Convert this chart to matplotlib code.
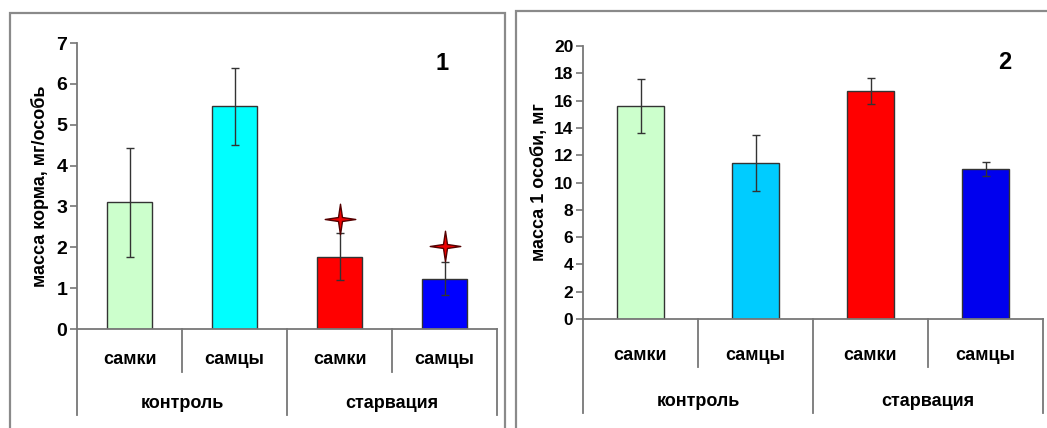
import matplotlib
matplotlib.use("Agg")
import matplotlib.pyplot as plt
from matplotlib.patches import Rectangle
from matplotlib.path import Path
import matplotlib.transforms as mtransforms

# ---- data ----
sub_labels = ["самки", "самцы", "самки", "самцы"]
group_labels = ["контроль", "старвация"]

feed_values = [3.1, 5.45, 1.77, 1.23]
feed_errors = [1.33, 0.95, 0.57, 0.40]
feed_stars = [None, None, 2.69, 2.03]
feed_colors = ["#ccffcc", "#00ffff", "#ff0000", "#0000ff"]

mass_values = [15.6, 11.45, 16.7, 11.0]
mass_errors = [2.0, 2.05, 0.95, 0.5]
mass_colors = ["#ccffcc", "#00ccff", "#ff0000", "#0000ee"]

W, H = 1047, 428
fig = plt.figure(figsize=(W / 100, H / 100), dpi=100)
fig.patch.set_facecolor("white")

FONT = ["Liberation Sans", "DejaVu Sans"]
plt.rcParams["font.family"] = FONT

def fx(px):
    return px / W

def fy(py):
    return 1 - py / H

# panel frames
fig.patches.append(Rectangle((fx(10), fy(440)), fx(505) - fx(10), fy(13) - fy(440),
                             transform=fig.transFigure, fill=False, ec="#8a8a8a", lw=1.6))
fig.patches.append(Rectangle((fx(516), fy(440)), fx(1060) - fx(516), fy(11) - fy(440),
                             transform=fig.transFigure, fill=False, ec="#8a8a8a", lw=1.6))

# star marker (4-pointed)
star_verts = [(0, 1), (0.13, 0.13), (1, 0), (0.13, -0.13), (0, -1), (-0.13, -0.13), (-1, 0), (-0.13, 0.13), (0, 1)]
star = Path(star_verts, [Path.MOVETO] + [Path.LINETO] * 7 + [Path.CLOSEPOLY])


def panel(left, right, top, bottom, values, errors, colors, ymax, ystep, ylabel, num, numpos,
          sub_sep, grp_sep, sub_y, grp_y, ylabel_x, stars=None, barw=0.42, ticksize=14):
    ax = fig.add_axes([fx(left), fy(bottom), fx(right) - fx(left), fy(top) - fy(bottom)])
    x = list(range(len(values)))
    ax.bar(x, values, width=barw, color=colors, edgecolor="#333333", linewidth=1.0, zorder=2)
    ax.errorbar(x, values, yerr=errors, fmt="none", ecolor="#333333", elinewidth=1.0,
                capsize=3, capthick=1.0, zorder=3)
    if stars is not None:
        for xi, s in zip(x, stars):
            if s is not None:
                ax.plot(xi, s, marker=star, markersize=22, color="#ee0000",
                        markeredgecolor="#550000", markeredgewidth=1.0, zorder=4, clip_on=False)
    ax.set_xlim(-0.5, len(values) - 0.5)
    ax.set_ylim(0, ymax)
    ax.set_yticks(range(0, ymax + 1, ystep))
    ax.set_xticks([])
    for s in ["top", "right"]:
        ax.spines[s].set_visible(False)
    for s in ["left", "bottom"]:
        ax.spines[s].set_color("#777777")
        ax.spines[s].set_linewidth(1.3)
    ax.tick_params(axis="y", direction="out", length=5, width=1.2, color="#777777",
                   labelsize=ticksize, pad=2)
    for t in ax.get_yticklabels():
        t.set_fontweight("bold")
    trans = mtransforms.blended_transform_factory(ax.transData, ax.transAxes)
    for xs in [0.5, 2.5]:
        ax.plot([xs, xs], [0, sub_sep], transform=trans, color="#777777", lw=1.3, clip_on=False)
    for xs in [-0.5, 1.5, 3.5]:
        ax.plot([xs, xs], [0, grp_sep], transform=trans, color="#777777", lw=1.3, clip_on=False)
    for xi, lab in zip(x, sub_labels):
        ax.text(xi, sub_y, lab, transform=trans, ha="center", va="center",
                fontsize=13, fontweight="bold")
    for gi, lab in enumerate(group_labels):
        ax.text(2 * gi + 0.5, grp_y, lab, transform=trans, ha="center", va="center",
                fontsize=13, fontweight="bold")
    ax.text(numpos[0], numpos[1], num, transform=ax.transAxes, ha="center", va="center",
            fontsize=17, fontweight="bold")
    fig.text(fx(ylabel_x), (fy(top) + fy(bottom)) / 2, ylabel, rotation=90, ha="center",
             va="center", fontsize=13, fontweight="bold")
    return ax


panel(77, 497, 43, 329, feed_values, feed_errors, feed_colors, 7, 1,
      "масса корма, мг/особь", "1", (0.87, 0.93),
      -0.15, -0.30, -0.108, -0.26, 40, stars=feed_stars, barw=0.42)

panel(583, 1043, 46, 319, mass_values, mass_errors, mass_colors, 20, 2,
      "масса 1 особи, мг", "2", (0.917, 0.94),
      -0.176, -0.344, -0.132, -0.304, 539, barw=0.41, ticksize=12.5)

fig.savefig("out.png", dpi=100, facecolor="white")
